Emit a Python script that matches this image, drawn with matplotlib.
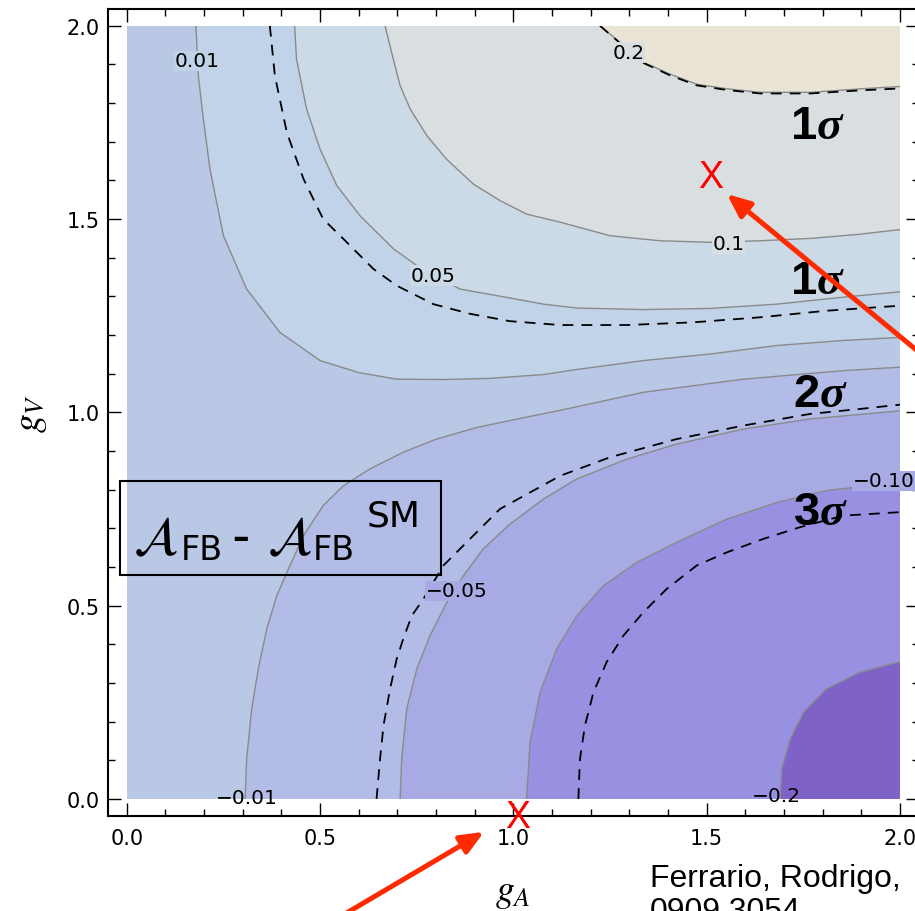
import matplotlib
matplotlib.use("Agg")
import matplotlib.pyplot as plt
from matplotlib.patches import Rectangle
from matplotlib.ticker import MultipleLocator

# ---------------- data ----------------
# filled-contour levels of A_FB - A_FB^SM
levels = [-0.2, -0.1, -0.05, -0.01, 0.01, 0.05, 0.1, 0.2]

# contour lines traced in (gA, gV)
c001_gA = [0.179, 0.185, 0.198, 0.215, 0.250, 0.310, 0.396, 0.500, 0.600, 0.698, 0.820, 0.939, 1.078, 1.164, 1.336, 1.509, 1.681, 1.853, 2.0]
c001_gV = [2.0, 1.871, 1.759, 1.630, 1.457, 1.319, 1.207, 1.134, 1.103, 1.086, 1.085, 1.088, 1.098, 1.111, 1.134, 1.151, 1.173, 1.186, 1.194]

c005_gA = [0.434, 0.439, 0.465, 0.500, 0.543, 0.603, 0.690, 0.750, 0.862, 0.991, 1.078, 1.164, 1.336, 1.509, 1.681, 1.853, 2.0]
c005_gV = [2.0, 1.914, 1.785, 1.681, 1.587, 1.509, 1.423, 1.380, 1.319, 1.296, 1.280, 1.270, 1.266, 1.269, 1.280, 1.298, 1.312]

c010_gA = [0.668, 0.685, 0.707, 0.733, 0.776, 0.827, 0.896, 0.965, 1.034, 1.121, 1.250, 1.379, 1.509, 1.638, 1.768, 1.897, 2.0]
c010_gV = [2.0, 1.931, 1.845, 1.785, 1.716, 1.655, 1.591, 1.548, 1.513, 1.492, 1.457, 1.444, 1.440, 1.444, 1.450, 1.461, 1.473]

c020_gA = [1.224, 1.276, 1.336, 1.405, 1.474, 1.552, 1.638, 1.768, 1.897, 2.0]
c020_gV = [2.0, 1.957, 1.906, 1.875, 1.849, 1.837, 1.828, 1.828, 1.837, 1.843]

cm001_gA = [0.306, 0.310, 0.323, 0.340, 0.362, 0.388, 0.414, 0.457, 0.508, 0.560, 0.629, 0.715, 0.801, 0.905, 0.991, 1.138, 1.336, 1.595, 1.853, 2.0]
cm001_gV = [0.0, 0.103, 0.233, 0.336, 0.440, 0.526, 0.586, 0.681, 0.759, 0.810, 0.854, 0.897, 0.931, 0.961, 0.979, 1.009, 1.052, 1.086, 1.108, 1.117]

cm005_gA = [0.707, 0.711, 0.724, 0.750, 0.784, 0.828, 0.871, 0.922, 0.991, 1.078, 1.164, 1.293, 1.422, 1.595, 1.767, 2.0]
cm005_gV = [0.0, 0.103, 0.233, 0.336, 0.422, 0.509, 0.578, 0.647, 0.711, 0.776, 0.828, 0.879, 0.918, 0.957, 0.983, 1.004]

cm010_gA = [1.034, 1.043, 1.069, 1.112, 1.164, 1.233, 1.319, 1.422, 1.552, 1.681, 1.810, 2.0]
cm010_gV = [0.0, 0.147, 0.276, 0.388, 0.474, 0.552, 0.612, 0.664, 0.724, 0.767, 0.798, 0.819]

cm020_gA = [1.690, 1.694, 1.716, 1.750, 1.810, 1.897, 2.0]
cm020_gV = [0.0, 0.078, 0.155, 0.224, 0.285, 0.328, 0.355]

# experimental sigma contours (dashed)
sig1lo_gA = [0.370, 0.383, 0.414, 0.457, 0.508, 0.560, 0.638, 0.698, 0.793, 0.888, 0.991, 1.121, 1.293, 1.465, 1.638, 1.810, 2.0]
sig1lo_gV = [2.0, 1.871, 1.724, 1.604, 1.500, 1.449, 1.371, 1.328, 1.280, 1.255, 1.236, 1.226, 1.226, 1.233, 1.246, 1.263, 1.276]

sig1up_gA = [1.224, 1.276, 1.336, 1.405, 1.474, 1.552, 1.638, 1.768, 1.897, 2.0]
sig1up_gV = [2.0, 1.955, 1.904, 1.872, 1.846, 1.834, 1.825, 1.825, 1.833, 1.838]

sig2_gA = [0.646, 0.655, 0.664, 0.681, 0.698, 0.715, 0.737, 0.767, 0.819, 0.888, 0.965, 1.121, 1.250, 1.422, 1.595, 1.767, 1.897, 2.0]
sig2_gV = [0.0, 0.103, 0.190, 0.285, 0.362, 0.414, 0.474, 0.517, 0.604, 0.673, 0.750, 0.836, 0.884, 0.931, 0.966, 0.996, 1.009, 1.020]

sig3_gA = [1.168, 1.172, 1.185, 1.207, 1.241, 1.284, 1.336, 1.396, 1.474, 1.552, 1.647, 1.741, 1.853, 1.983, 2.0]
sig3_gV = [0.0, 0.103, 0.190, 0.276, 0.354, 0.422, 0.483, 0.543, 0.604, 0.638, 0.673, 0.703, 0.733, 0.741, 0.742]

# contour-label texts
contour_labels = ["0.01", "0.05", "0.1", "0.2", "\u22120.01", "\u22120.05", "\u22120.10", "\u22120.2"]
sigma_labels = ["1", "1", "2", "3"]

# marked points (gA, gV)
marks_gA = [1.509, 1.010]
marks_gV = [1.608, -0.047]

tick_vals = [0.0, 0.5, 1.0, 1.5, 2.0]
tick_labels = ["0.0", "0.5", "1.0", "1.5", "2.0"]

# ---------------- styling ----------------
col_center = "#b9c8e4"
col_pos = ["#c0d3e8", "#cbdae6", "#d9dfe0", "#e9e4d6"]
col_neg = ["#b2bce6", "#a8abe3", "#9890e1", "#7e62c8"]
line_col = "#8a8a8a"
arrow_col = "#ff2a00"

fig = plt.figure(figsize=(9.15, 9.12), dpi=100)
ax = fig.add_axes([108 / 915, 95 / 912, 811 / 915, 807 / 912])
ax.set_xlim(-0.0486, 2.049)
ax.set_ylim(-0.044, 2.0435)

clip = Rectangle((0, 0), 2, 2, transform=ax.transData)

bg = Rectangle((0, 0), 2, 2, facecolor=col_center, edgecolor="none", zorder=0)
ax.add_patch(bg)

pos_lines = [(c001_gA, c001_gV), (c005_gA, c005_gV), (c010_gA, c010_gV), (c020_gA, c020_gV)]
neg_lines = [(cm001_gA, cm001_gV), (cm005_gA, cm005_gV), (cm010_gA, cm010_gV), (cm020_gA, cm020_gV)]

for (gx, gy), col in zip(pos_lines, col_pos):
    p = ax.fill(list(gx) + [2.0], list(gy) + [2.0], facecolor=col, edgecolor="none", zorder=1)[0]
    p.set_clip_path(clip)
for (gx, gy), col in zip(neg_lines, col_neg):
    p = ax.fill(list(gx) + [2.0], list(gy) + [0.0], facecolor=col, edgecolor="none", zorder=1)[0]
    p.set_clip_path(clip)

for gx, gy in pos_lines + neg_lines:
    ln, = ax.plot(gx, gy, color=line_col, lw=1.0, zorder=2)
    ln.set_clip_path(clip)

for gx, gy in [(sig1lo_gA, sig1lo_gV), (sig1up_gA, sig1up_gV), (sig2_gA, sig2_gV), (sig3_gA, sig3_gV)]:
    ln, = ax.plot(gx, gy, color="black", lw=1.3, ls=(0, (6, 4.5)), zorder=3)
    ln.set_clip_path(clip)

# contour labels
lab_pos = [(0.181, 1.910), (0.793, 1.354), (1.556, 1.436), (1.297, 1.931),
           (0.310, 0.004), (0.853, 0.539), (1.957, 0.823), (1.681, 0.009)]
lab_bg = [col_pos[0], col_pos[1], col_pos[2], col_pos[2],
          None, col_neg[1], col_neg[1], None]
for t, (lx, ly), bgc in zip(contour_labels, lab_pos, lab_bg):
    kw = {}
    if bgc is not None:
        kw["bbox"] = dict(facecolor=bgc, edgecolor="none", pad=0.5)
    ax.text(lx, ly, t, fontsize=14.5, family="DejaVu Sans", ha="center", va="center",
            zorder=4, clip_on=False, **kw)

# sigma labels
sig_pos = [(1.785, 1.711), (1.785, 1.310), (1.793, 1.017), (1.793, 0.711)]
for t, (sx, sy) in zip(sigma_labels, sig_pos):
    ax.text(sx, sy, t, fontsize=34, family="Liberation Sans", weight="bold",
            ha="right", va="baseline", zorder=5)
    ax.text(sx, sy, "\u03c3", fontsize=34, family="Liberation Serif", weight="bold",
            style="italic", ha="left", va="baseline", zorder=5)

# legend-like box
ax.add_patch(Rectangle((-0.018, 0.580), 0.830, 0.243, facecolor="none",
                       edgecolor="black", lw=1.5, zorder=5, clip_on=False))
ax.text(0.016, 0.634, r"$\mathcal{A}$", fontsize=38, math_fontfamily="stix",
        ha="left", va="baseline", zorder=6)
ax.text(0.140, 0.621, "FB", fontsize=24, family="DejaVu Sans", ha="left", va="baseline", zorder=6)
ax.text(0.272, 0.651, "\u2013", fontsize=24, family="DejaVu Sans", weight="bold",
        ha="left", va="baseline", zorder=6)
ax.text(0.362, 0.634, r"$\mathcal{A}$", fontsize=38, math_fontfamily="stix",
        ha="left", va="baseline", zorder=6)
ax.text(0.480, 0.621, "FB", fontsize=24, family="DejaVu Sans", ha="left", va="baseline", zorder=6)
ax.text(0.621, 0.707, "SM", fontsize=26, family="DejaVu Sans", ha="left", va="baseline", zorder=6)

# red marks
for mx, my in zip(marks_gA, marks_gV):
    ax.text(mx, my, "X", color="#ff0000", fontsize=27, family="Liberation Sans",
            ha="center", va="center", zorder=7, clip_on=False)

# arrows
ax.annotate("", xy=(1.552, 1.565), xytext=(2.259, 0.983),
            arrowprops=dict(arrowstyle="-|>,head_length=1.4,head_width=0.6", color=arrow_col,
                            lw=3.6, shrinkA=0, shrinkB=0),
            annotation_clip=False, zorder=8)
ax.annotate("", xy=(0.924, -0.085), xytext=(0.404, -0.392),
            arrowprops=dict(arrowstyle="-|>,head_length=1.4,head_width=0.6", color=arrow_col,
                            lw=3.6, shrinkA=0, shrinkB=0),
            annotation_clip=False, zorder=8)

# axes styling
ax.set_xticks(tick_vals)
ax.set_yticks(tick_vals)
ax.set_xticklabels(tick_labels, family="DejaVu Sans", fontsize=15)
ax.set_yticklabels(tick_labels, family="DejaVu Sans", fontsize=15)
ax.xaxis.set_minor_locator(MultipleLocator(0.1))
ax.yaxis.set_minor_locator(MultipleLocator(0.1))
ax.tick_params(which="both", direction="in", top=True, right=True, width=1.0, color="black")
ax.tick_params(which="major", length=9.5)
ax.tick_params(which="minor", length=5)
ax.tick_params(axis="x", which="major", pad=9)
ax.tick_params(axis="y", which="major", pad=6)
for s in ax.spines.values():
    s.set_linewidth(1.5)

fig.text(513 / 915, 1 - 893 / 912, r"$g_A$", fontsize=27, math_fontfamily="stix",
         ha="center", va="center")
fig.text(31 / 915, 1 - 414 / 912, r"$g_V$", fontsize=27, math_fontfamily="stix",
         ha="center", va="center", rotation=90)

fig.text(650 / 915, 1 - 864 / 912, "Ferrario, Rodrigo,\n0909.3054", fontsize=23,
         family="Liberation Sans", ha="left", va="top", linespacing=1.15)

fig.savefig("out.png", dpi=100)
